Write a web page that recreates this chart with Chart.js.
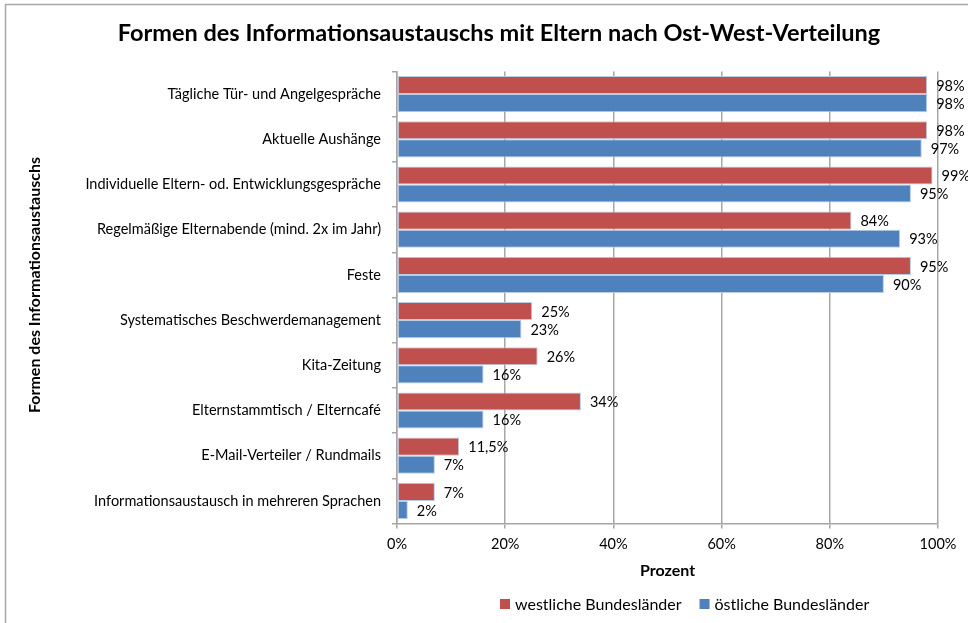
<!DOCTYPE html>
<html lang="de">
<head>
<meta charset="utf-8">
<title>Formen des Informationsaustauschs</title>
<script src="https://cdn.jsdelivr.net/npm/chart.js@4.4.1/dist/chart.umd.min.js"></script>
<style>
  html, body { margin: 0; padding: 0; background: #fff; }
  #wrap { position: relative; width: 968px; height: 623px; }
</style>
</head>
<body>
<div id="wrap"><canvas id="chart"></canvas></div>
<script>
const categories = [
  'Tägliche Tür- und Angelgespräche',
  'Aktuelle Aushänge',
  'Individuelle Eltern- od. Entwicklungsgespräche',
  'Regelmäßige Elternabende (mind. 2x im Jahr)',
  'Feste',
  'Systematisches Beschwerdemanagement',
  'Kita-Zeitung',
  'Elternstammtisch / Elterncafé',
  'E-Mail-Verteiler / Rundmails',
  'Informationsaustausch in mehreren Sprachen'
];
const westValues = [98, 98, 99, 84, 95, 25, 26, 34, 11.5, 7];
const eastValues = [98, 97, 95, 93, 90, 23, 16, 16, 7, 2];
const percentTicks = [0, 20, 40, 60, 80, 100];

const FONT = 'Lato';
const RED = '#C0504D';
const BLUE = '#4F81BD';
const GRID = '#A6A6A6';

const pct = v => v.toLocaleString('de-DE') + '%';

// frame, titles and legend
const chrome = {
  id: 'chrome',
  beforeDraw(chart) {
    const ctx = chart.ctx;
    ctx.save();
    ctx.fillStyle = '#fff';
    ctx.fillRect(0, 0, chart.width, chart.height);
    ctx.strokeStyle = '#A9A9A9';
    ctx.lineWidth = 1.5;
    ctx.strokeRect(5.5, 4.5, chart.width + 10, chart.height + 10);
    ctx.restore();
  },
  afterDraw(chart) {
    const ctx = chart.ctx;
    ctx.save();
    ctx.fillStyle = '#000';
    ctx.textBaseline = 'middle';
    ctx.textAlign = 'center';
    ctx.font = `bold 23.5px ${FONT}`;
    ctx.fillText('Formen des Informationsaustauschs mit Eltern nach Ost-West-Verteilung', 499, 33);

    // vertical axis title
    ctx.save();
    ctx.translate(35, 285);
    ctx.rotate(-Math.PI / 2);
    ctx.font = `bold 16px ${FONT}`;
    ctx.fillText('Formen des Informationsaustauschs', 0, 0);
    ctx.restore();

    // legend
    ctx.font = `16px ${FONT}`;
    ctx.textAlign = 'left';
    let x = 500;
    const y = 604;
    chart.data.datasets.forEach(ds => {
      ctx.fillStyle = ds.backgroundColor;
      ctx.fillRect(x, y - 5, 10, 10);
      ctx.fillStyle = '#000';
      ctx.fillText(ds.label, x + 15, y + 1);
      x += 15 + ctx.measureText(ds.label).width + 18;
    });
    ctx.restore();
  }
};

// value labels right of each bar
const barLabels = {
  id: 'barLabels',
  afterDatasetsDraw(chart) {
    const ctx = chart.ctx;
    ctx.save();
    ctx.font = `14.5px ${FONT}`;
    ctx.fillStyle = '#000';
    ctx.textBaseline = 'middle';
    ctx.textAlign = 'left';
    chart.data.datasets.forEach((ds, i) => {
      chart.getDatasetMeta(i).data.forEach((bar, j) => {
        ctx.fillText(pct(ds.data[j]), bar.x + 9, bar.y + 1);
      });
    });
    ctx.restore();
  }
};

new Chart(document.getElementById('chart'), {
  type: 'bar',
  data: {
    labels: categories,
    datasets: [
      {
        label: 'westliche Bundesländer',
        data: westValues,
        backgroundColor: RED,
        borderColor: '#B9CDE5',
        borderWidth: 1,
        borderSkipped: false,
        categoryPercentage: 0.8,
        barPercentage: 1.0
      },
      {
        label: 'östliche Bundesländer',
        data: eastValues,
        backgroundColor: BLUE,
        borderColor: '#B9CDE5',
        borderWidth: 1,
        borderSkipped: false,
        categoryPercentage: 0.8,
        barPercentage: 1.0
      }
    ]
  },
  options: {
    indexAxis: 'y',
    responsive: true,
    maintainAspectRatio: false,
    animation: false,
    layout: { padding: { left: 10, right: 30, top: 71.5, bottom: 38 } },
    plugins: {
      legend: { display: false },
      title: { display: false },
      tooltip: { enabled: false }
    },
    scales: {
      x: {
        min: 0,
        max: 100,
        afterBuildTicks: scale => { scale.ticks = percentTicks.map(v => ({ value: v })); },
        afterFit: scale => { scale.height = 61.5; },
        grid: { color: GRID, lineWidth: 1.5, tickLength: 5, drawTicks: true },
        border: { color: GRID, width: 1.5 },
        ticks: {
          color: '#000',
          padding: 7,
          font: { family: FONT, size: 14.5 },
          callback: v => v + '%'
        },
        title: {
          display: true,
          text: 'Prozent',
          color: '#000',
          font: { family: FONT, size: 16, weight: 'bold' },
          padding: { top: 0, bottom: 4.5 }
        }
      },
      y: {
        afterFit: scale => { scale.width = 387; },
        grid: { drawOnChartArea: false, drawTicks: true, tickLength: 5, color: GRID, lineWidth: 1.5, offset: true },
        border: { color: GRID, width: 1.5 },
        ticks: {
          color: '#000',
          padding: 11,
          font: { family: FONT, size: 14.5 }
        }
      }
    }
  },
  plugins: [chrome, barLabels]
});
</script>
</body>
</html>
